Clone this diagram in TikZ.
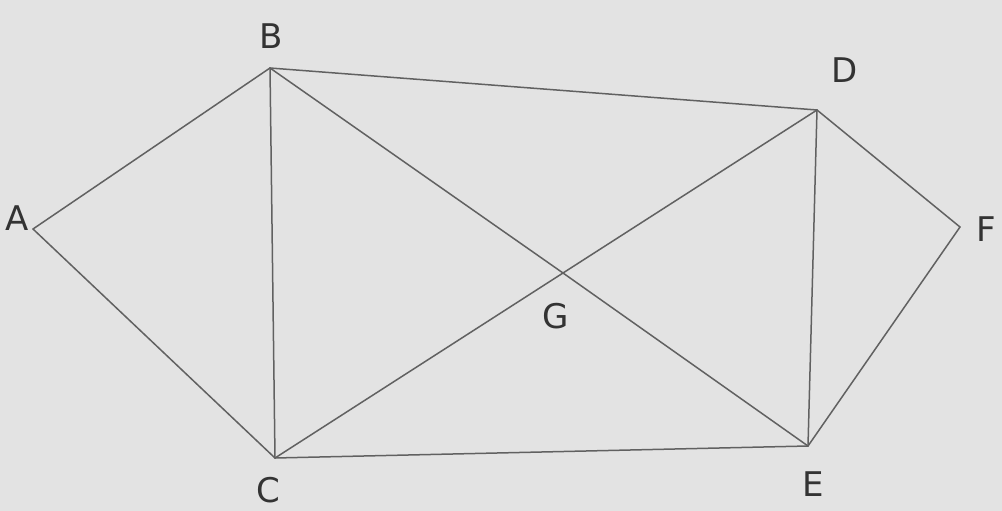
\documentclass[tikz,border=0pt]{standalone}
\usepackage{fontspec}
\setmainfont{DejaVu Sans}
\begin{document}
\begin{tikzpicture}[x=1pt,y=-1pt,
  lbl/.style={font=\fontsize{34}{34}\selectfont\rmfamily, text=black!80},
  edge/.style={draw=black!62, line width=1.5pt, line cap=round}]
\fill[black!11] (0,0) rectangle (1002,511);
\useasboundingbox (0,0) rectangle (1002,511);
\coordinate (A) at (33,229);
\coordinate (B) at (270,68);
\coordinate (C) at (275,458);
\coordinate (D) at (817,110);
\coordinate (E) at (808,446);
\coordinate (F) at (960,227);
\coordinate (G) at (563,273);
\node[lbl] (lA) at (17,218) {A};
\node[lbl] (lB) at (271,36) {B};
\node[lbl] (lC) at (268,490) {C};
\node[lbl] (lD) at (845,70) {D};
\node[lbl] (lE) at (813,484) {E};
\node[lbl] (lF) at (986,229) {F};
\node[lbl] (lG) at (556,316) {G};
\draw[edge] (A) -- (B);
\draw[edge] (A) -- (C);
\draw[edge] (B) -- (C);
\draw[edge] (B) -- (D);
\draw[edge] (B) -- (G) -- (E);
\draw[edge] (C) -- (G) -- (D);
\draw[edge] (C) -- (E);
\draw[edge] (D) -- (E);
\draw[edge] (D) -- (F);
\draw[edge] (E) -- (F);
\end{tikzpicture}
\end{document}
